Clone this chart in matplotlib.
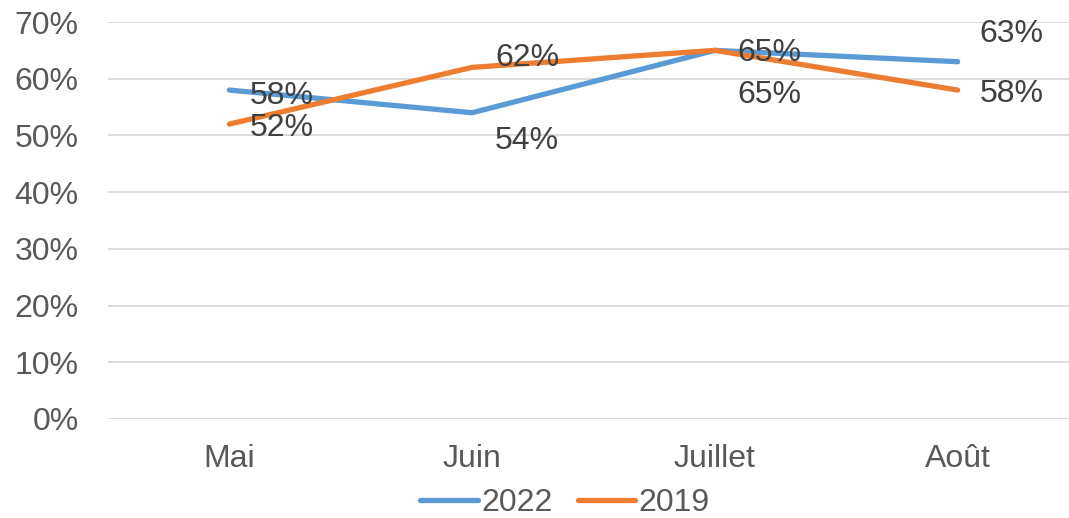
import matplotlib
matplotlib.use("Agg")
import matplotlib.pyplot as plt
from matplotlib.ticker import FuncFormatter

months = ["Mai", "Juin", "Juillet", "Août"]
y2022 = [58, 54, 65, 63]
y2019 = [52, 62, 65, 58]
yticks = [0, 10, 20, 30, 40, 50, 60, 70]

# label offsets (points) per point
off2022 = [(14.5, -4), (16.5, -20), (16.5, -2), (16, 20)]
off2019 = [(14.5, -3), (16.5, 6.5), (16.5, -32), (16, -3)]

plt.rcParams['font.family'] = ['Liberation Sans', 'DejaVu Sans']
TXT = '#595959'
BLUE = '#5B9BD5'
ORANGE = '#ED7D31'
FS = 23

fig = plt.figure(figsize=(10.69, 5.18), dpi=100)
W, H = 1069, 518
left, right, top, bottom = 108, 1079, 22, 419
ax = fig.add_axes([left / W, (H - bottom) / H, (right - left) / W, (bottom - top) / H])

x = list(range(len(months)))
l1, = ax.plot(x, y2022, color=BLUE, lw=3.8, solid_capstyle='round', label='2022', zorder=3)
l2, = ax.plot(x, y2019, color=ORANGE, lw=3.8, solid_capstyle='round', label='2019', zorder=3)

for xi, v, o in zip(x, y2022, off2022):
    ax.annotate(f"{v}%", (xi, v), xytext=o, textcoords='offset points',
                ha='left', va='center', fontsize=FS, color='#404040', zorder=4)
for xi, v, o in zip(x, y2019, off2019):
    ax.annotate(f"{v}%", (xi, v), xytext=o, textcoords='offset points',
                ha='left', va='center', fontsize=FS, color='#404040', zorder=4)

ax.set_xlim(-0.5, 3.5)
ax.set_ylim(0, 70)
ax.set_yticks(yticks)
ax.yaxis.set_major_formatter(FuncFormatter(lambda v, p: f"{int(v)}%"))
ax.set_xticks(x)
ax.set_xticklabels(months)
ax.grid(axis='y', color='#D9D9D9', lw=1.3)
ax.set_axisbelow(True)
for s in ax.spines.values():
    s.set_visible(False)
ax.tick_params(axis='both', length=0, labelsize=FS, colors=TXT)
ax.tick_params(axis='y', pad=21)
ax.tick_params(axis='x', pad=18)

fig.legend(handles=[l1, l2], loc='center', bbox_to_anchor=(565 / W, 1 - 503 / H),
           ncol=2, frameon=False, fontsize=FS, labelcolor=TXT,
           handlelength=1.8, handletextpad=0.1, columnspacing=0.8)

fig.savefig("out.png", dpi=100)
